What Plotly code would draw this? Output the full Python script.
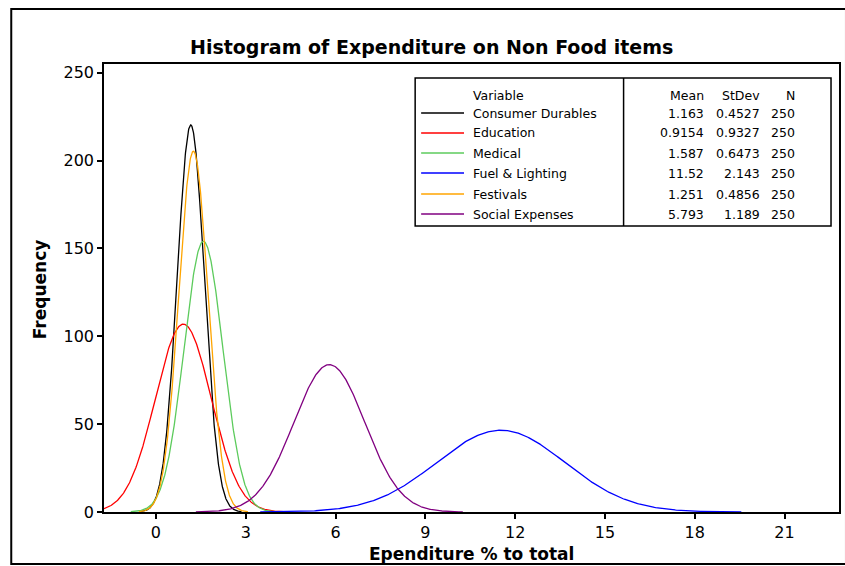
import numpy as np
import plotly.graph_objects as go

# Fitted normal summaries for each non-food expenditure share (% of total)
variables = ["Consumer Durables", "Education", "Medical", "Fuel & Lighting", "Festivals", "Social Expenses"]
means = [1.163, 0.9154, 1.587, 11.52, 1.251, 5.793]
stdevs = [0.4527, 0.9327, 0.6473, 2.143, 0.4856, 1.189]
counts = [250, 250, 250, 250, 250, 250]
mean_labels = ["1.163", "0.9154", "1.587", "11.52", "1.251", "5.793"]
sd_labels = ["0.4527", "0.9327", "0.6473", "2.143", "0.4856", "1.189"]
colors = ["#000000", "#FF0000", "#5CCB5C", "#0000FF", "#FFA500", "#800080"]

x_ticks = [0, 3, 6, 9, 12, 15, 18, 21]
y_ticks = [0, 50, 100, 150, 200, 250]
bin_width = 1.0
x_range = [-1.735, 22.82]
y_range = [0, 255]

W, H = 845, 566
L, R, T, B = 104, 841, 64, 512  # plot area in pixels


def px(xp):
    return (xp - L) / (R - L)


def py(yp):
    return (B - yp) / (B - T)


fig = go.Figure()
for name, m, s, n, c in zip(variables, means, stdevs, counts, colors):
    lo = max(m - 3.75 * s, x_range[0])
    hi = m + 3.75 * s
    xs = np.linspace(lo, hi, 400)
    ys = n * bin_width * np.exp(-0.5 * ((xs - m) / s) ** 2) / (s * np.sqrt(2 * np.pi))
    fig.add_trace(go.Scatter(x=xs, y=ys, mode="lines", name=name,
                             line=dict(color=c, width=1.3), showlegend=False,
                             hoverinfo="skip"))

font_reg = "DejaVu Sans, Liberation Sans, sans-serif"
font_bold = "DejaVu Sans, Liberation Sans, sans-serif"

shapes = []
annotations = []

# Outer frame
shapes.append(dict(type="rect", xref="paper", yref="paper",
                   x0=px(11), x1=px(848), y0=py(564), y1=py(9),
                   line=dict(color="black", width=2), layer="below"))

# Legend table
lx0, lx1, ly0, ly1, ldiv = 416, 833, 78, 226, 625
shapes.append(dict(type="rect", xref="paper", yref="paper",
                   x0=px(lx0), x1=px(lx1), y0=py(ly1), y1=py(ly0),
                   line=dict(color="black", width=1.5), fillcolor="white"))
shapes.append(dict(type="line", xref="paper", yref="paper",
                   x0=px(ldiv), x1=px(ldiv), y0=py(ly1), y1=py(ly0),
                   line=dict(color="black", width=1.5)))

row_y = [113, 133, 153, 173, 194, 214]
header_y = 95
lfont = dict(family=font_reg, size=12.5, color="black")


def text(xp, yp, s, anchor="left"):
    annotations.append(dict(x=px(xp), y=py(yp), xref="paper", yref="paper",
                            text=s, showarrow=False, xanchor=anchor,
                            yanchor="middle", font=lfont))


text(472, header_y, "Variable")
text(708, header_y, "Mean", "right")
text(764, header_y, "StDev", "right")
text(799, header_y, "N", "right")
for i, yy in enumerate(row_y):
    shapes.append(dict(type="line", xref="paper", yref="paper",
                       x0=px(422), x1=px(465), y0=py(yy), y1=py(yy),
                       line=dict(color=colors[i], width=1.5)))
    text(472, yy, variables[i])
    text(708, yy, mean_labels[i], "right")
    text(764, yy, sd_labels[i], "right")
    text(799, yy, str(counts[i]), "right")

# Chart title
annotations.append(dict(x=px(432), y=py(60), xref="paper", yref="paper",
                        text="<b>Histogram of Expenditure on Non Food items</b>",
                        showarrow=False, xanchor="center", yanchor="bottom",
                        font=dict(family=font_bold, size=19, color="black")))
# Axis titles
annotations.append(dict(x=px(472), y=py(554), xref="paper", yref="paper",
                        text="<b>Ependiture % to total</b>",
                        showarrow=False, xanchor="center", yanchor="middle",
                        font=dict(family=font_bold, size=17, color="black")))
annotations.append(dict(x=px(40), y=py(289), xref="paper", yref="paper",
                        text="<b>Frequency</b>", textangle=-90,
                        showarrow=False, xanchor="center", yanchor="middle",
                        font=dict(family=font_bold, size=17, color="black")))

axis_common = dict(showgrid=False, zeroline=False, showline=True, mirror=True,
                   linecolor="black", linewidth=1.5, ticks="outside",
                   ticklen=5, tickwidth=1.5, tickcolor="black",
                   tickfont=dict(family=font_reg, size=16, color="black"))

fig.update_layout(
    width=W, height=H,
    margin=dict(l=L, r=W - R, t=T, b=H - B),
    paper_bgcolor="white", plot_bgcolor="white",
    xaxis=dict(range=x_range, tickvals=x_ticks, **axis_common),
    yaxis=dict(range=y_range, tickvals=y_ticks, **axis_common),
    shapes=shapes, annotations=annotations,
)

fig.write_html("out.html")
